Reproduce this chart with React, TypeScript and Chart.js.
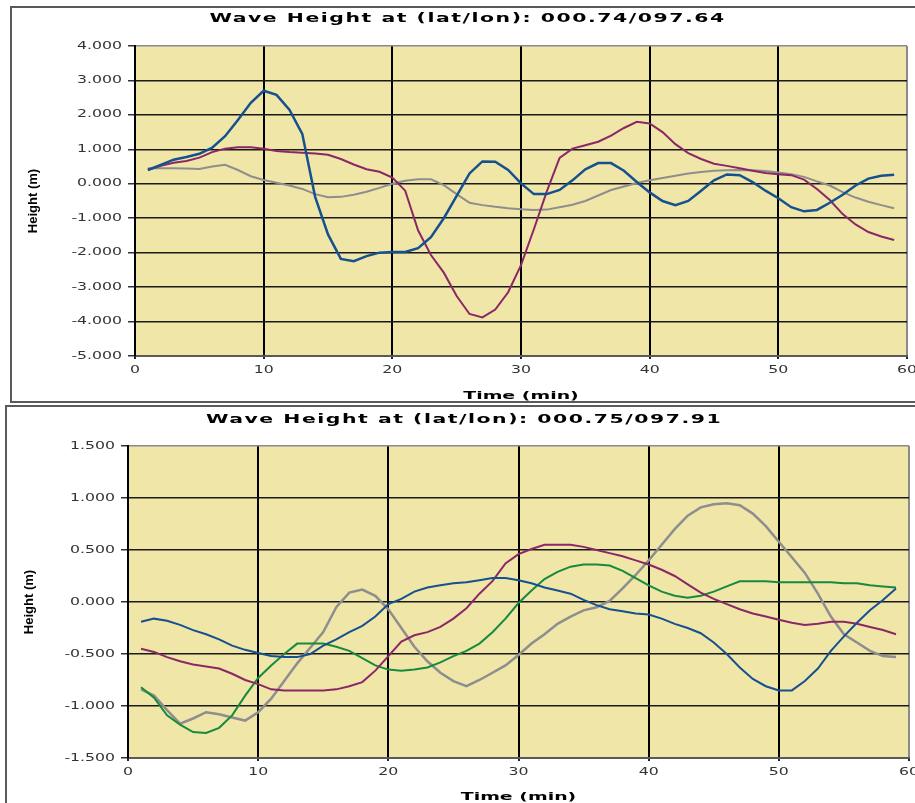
import React, { useEffect, useRef } from 'react';
import { Chart, registerables } from 'chart.js';

Chart.register(...registerables);

// ---------- data ----------
const minutes = [
  1, 2, 3, 4, 5, 6, 7, 8, 9, 10, 11, 12, 13, 14, 15, 16, 17, 18, 19, 20,
  21, 22, 23, 24, 25, 26, 27, 28, 29, 30, 31, 32, 33, 34, 35, 36, 37, 38, 39, 40,
  41, 42, 43, 44, 45, 46, 47, 48, 49, 50, 51, 52, 53, 54, 55, 56, 57, 58, 59,
];
const xTicks = [0, 10, 20, 30, 40, 50, 60];

const title1 = 'Wave Height at (lat/lon): 000.74/097.64';
const title2 = 'Wave Height at (lat/lon): 000.75/097.91';
const xTitle = 'Time (min)';
const yTitle = 'Height (m)';

const c1Blue = [
  0.40, 0.55, 0.70, 0.78, 0.87, 1.05, 1.38, 1.85, 2.35, 2.70,
  2.58, 2.15, 1.45, -0.38, -1.47, -2.18, -2.25, -2.10, -2.00, -1.98,
  -1.98, -1.87, -1.55, -1.00, -0.35, 0.30, 0.65, 0.64, 0.40, 0.01,
  -0.30, -0.30, -0.18, 0.10, 0.42, 0.60, 0.60, 0.38, 0.05, -0.25,
  -0.50, -0.62, -0.50, -0.20, 0.10, 0.27, 0.25, 0.05, -0.20, -0.42,
  -0.68, -0.80, -0.76, -0.55, -0.32, -0.05, 0.15, 0.23, 0.26,
];
const c1Purple = [
  0.40, 0.52, 0.61, 0.66, 0.76, 0.92, 1.02, 1.06, 1.06, 1.02,
  0.95, 0.92, 0.90, 0.88, 0.84, 0.72, 0.56, 0.42, 0.35, 0.18,
  -0.20, -1.35, -2.07, -2.58, -3.26, -3.78, -3.88, -3.65, -3.15, -2.36,
  -1.32, -0.23, 0.75, 1.02, 1.12, 1.22, 1.40, 1.62, 1.80, 1.75,
  1.50, 1.15, 0.89, 0.72, 0.58, 0.52, 0.45, 0.38, 0.31, 0.28,
  0.25, 0.12, -0.15, -0.47, -0.88, -1.18, -1.40, -1.53, -1.63,
];
const c1Gray = [
  0.45, 0.45, 0.45, 0.44, 0.43, 0.50, 0.55, 0.40, 0.22, 0.11,
  0.03, -0.05, -0.15, -0.30, -0.39, -0.38, -0.32, -0.23, -0.12, 0.00,
  0.09, 0.13, 0.13, -0.04, -0.30, -0.55, -0.62, -0.67, -0.71, -0.74,
  -0.76, -0.75, -0.68, -0.61, -0.50, -0.34, -0.18, -0.08, 0.02, 0.10,
  0.17, 0.23, 0.30, 0.34, 0.38, 0.39, 0.40, 0.39, 0.37, 0.33,
  0.28, 0.20, 0.07, -0.05, -0.24, -0.40, -0.52, -0.62, -0.71,
];

const c2Blue = [
  -0.19, -0.16, -0.18, -0.22, -0.27, -0.31, -0.36, -0.42, -0.46, -0.49,
  -0.52, -0.53, -0.53, -0.50, -0.42, -0.36, -0.29, -0.23, -0.14, -0.02,
  0.03, 0.10, 0.14, 0.16, 0.18, 0.19, 0.21, 0.23, 0.23, 0.21,
  0.18, 0.14, 0.11, 0.08, 0.02, -0.03, -0.07, -0.09, -0.11, -0.12,
  -0.16, -0.21, -0.25, -0.30, -0.39, -0.50, -0.63, -0.74, -0.81, -0.85,
  -0.85, -0.76, -0.64, -0.47, -0.33, -0.20, -0.08, 0.02, 0.13,
];
const c2Purple = [
  -0.45, -0.48, -0.53, -0.57, -0.60, -0.62, -0.64, -0.69, -0.75, -0.79,
  -0.84, -0.85, -0.85, -0.85, -0.85, -0.84, -0.81, -0.77, -0.66, -0.52,
  -0.38, -0.32, -0.29, -0.24, -0.16, -0.06, 0.08, 0.20, 0.37, 0.46,
  0.51, 0.55, 0.55, 0.55, 0.53, 0.50, 0.47, 0.44, 0.40, 0.36,
  0.31, 0.25, 0.17, 0.09, 0.03, -0.02, -0.07, -0.11, -0.14, -0.17,
  -0.20, -0.22, -0.21, -0.19, -0.19, -0.21, -0.24, -0.27, -0.31,
];
const c2Green = [
  -0.82, -0.92, -1.09, -1.18, -1.25, -1.26, -1.21, -1.09, -0.90, -0.73,
  -0.61, -0.50, -0.40, -0.40, -0.40, -0.43, -0.47, -0.54, -0.61, -0.65,
  -0.66, -0.65, -0.63, -0.58, -0.52, -0.47, -0.40, -0.29, -0.16, -0.01,
  0.11, 0.22, 0.29, 0.34, 0.36, 0.36, 0.35, 0.30, 0.23, 0.16,
  0.10, 0.06, 0.04, 0.06, 0.10, 0.15, 0.20, 0.20, 0.20, 0.19,
  0.19, 0.19, 0.19, 0.19, 0.18, 0.18, 0.16, 0.15, 0.14,
];
const c2Gray = [
  -0.84, -0.90, -1.04, -1.17, -1.12, -1.06, -1.08, -1.11, -1.14, -1.06,
  -0.93, -0.76, -0.59, -0.44, -0.29, -0.05, 0.09, 0.12, 0.06, -0.07,
  -0.25, -0.43, -0.57, -0.68, -0.76, -0.81, -0.75, -0.68, -0.61, -0.51,
  -0.40, -0.31, -0.21, -0.14, -0.08, -0.05, 0.01, 0.13, 0.26, 0.40,
  0.55, 0.70, 0.83, 0.91, 0.94, 0.95, 0.93, 0.85, 0.73, 0.58,
  0.43, 0.28, 0.08, -0.14, -0.31, -0.39, -0.47, -0.52, -0.53,
];

// ---------- styles ----------
const BLUE = '#15508f';
const PURPLE = '#8b2766';
const GRAY = '#8e8e8e';
const GREEN = '#168a3e';
const PLOT_BG = '#F0E6A8';
const FONT = "'DejaVu Sans', Verdana, sans-serif";
const YFONT = "'Liberation Sans', Arial, sans-serif";

const plotBg = {
  id: 'plotBg',
  beforeDraw(chart: any) {
    const { ctx, chartArea } = chart;
    if (!chartArea) return;
    ctx.save();
    ctx.fillStyle = PLOT_BG;
    ctx.fillRect(chartArea.left, chartArea.top, chartArea.width, chartArea.height);
    ctx.restore();
  },
};

// widen text horizontally like the reference rendering
function patchText(ctx: any) {
  if (ctx.__patched) return;
  ctx.__patched = true;
  const orig = ctx.fillText.bind(ctx);
  ctx.fillText = (text: string, x: number, y: number) => {
    const m = ctx.getTransform();
    const rotated = Math.abs(m.b) > 1e-6;
    const f = String(ctx.font);
    let sx = 1;
    let ls = '0px';
    if (!rotated) {
      if (f.includes('12px')) { sx = 1.7; ls = '0.9px'; }
      else if (f.includes('11px')) { sx = 1.72; }
      else if (f.includes('10px')) { sx = 1.57; }
    }
    if (sx === 1 && ls === '0px') { orig(text, x, y); return; }
    ctx.save();
    ctx.translate(x, y);
    ctx.scale(sx, 1);
    try { ctx.letterSpacing = ls; } catch (e) { /* ignore */ }
    orig(text, 0, 0);
    ctx.restore();
  };
}

type Series = { data: number[]; color: string; width: number };

type PanelProps = {
  title: string;
  series: Series[];
  yMin: number;
  yMax: number;
  yStep: number;
  left: number;
  top: number;
  w: number;
  h: number;
  padLeft: number;
  padRight: number;
  yAxisW: number;
  xAxisH: number;
  titlePadTop: number;
  titlePadBottom: number;
  yTitlePad: number;
  xTitlePad: number;
};

function WavePanel(p: PanelProps) {
  const ref = useRef<HTMLCanvasElement | null>(null);
  useEffect(() => {
    const canvas = ref.current as HTMLCanvasElement;
    const ctx = canvas.getContext('2d');
    patchText(ctx);
    const near = (a: number, b: number) => Math.abs(a - b) < 1e-6;
    const chart = new Chart(canvas, {
      type: 'line',
      data: {
        datasets: p.series.map((s) => ({
          data: minutes.map((m, i) => ({ x: m, y: s.data[i] })),
          borderColor: s.color,
          borderWidth: s.width,
          pointRadius: 0,
          tension: 0,
          fill: false,
        })),
      },
      options: {
        responsive: false,
        animation: false,
        events: [],
        layout: { padding: { left: p.padLeft, right: p.padRight, top: 0, bottom: 0 } },
        plugins: {
          legend: { display: false },
          tooltip: { enabled: false },
          title: {
            display: true,
            text: p.title,
            color: '#000',
            font: { family: FONT, size: 12, weight: 'bold' },
            padding: { top: p.titlePadTop, bottom: p.titlePadBottom },
          },
        },
        scales: {
          x: {
            type: 'linear',
            min: xTicks[0],
            max: xTicks[xTicks.length - 1],
            afterBuildTicks: (scale: any) => {
              scale.ticks = xTicks.map((v) => ({ value: v }));
            },
            ticks: {
              color: '#333',
              font: { family: FONT, size: 10 },
              padding: 5,
              maxRotation: 0,
              autoSkip: false,
              callback: (v: any) => String(v),
            },
            grid: {
              color: (c: any) => (c.tick && near(c.tick.value, 60) ? '#8a8a8a' : '#000'),
              lineWidth: 2,
              tickLength: 3,
              tickColor: '#222',
            },
            border: { display: true, color: '#5a5a5a', width: 2 },
            title: {
              display: true,
              text: xTitle,
              color: '#000',
              font: { family: FONT, size: 11, weight: 'bold' },
              padding: { top: 0, bottom: p.xTitlePad },
            },
            afterFit: (s: any) => {
              s.height = p.xAxisH;
              s.paddingLeft = 0;
              s.paddingRight = 0;
            },
          },
          y: {
            type: 'linear',
            min: p.yMin,
            max: p.yMax,
            ticks: {
              stepSize: p.yStep,
              color: '#333',
              font: { family: FONT, size: 10 },
              padding: 6,
              callback: (v: any) => Number(v).toFixed(3),
            },
            grid: {
              color: (c: any) => (c.tick && near(c.tick.value, p.yMax) ? '#8a8a8a' : '#1a1a1a'),
              lineWidth: 1.5,
              tickLength: 7,
              tickColor: '#333',
            },
            border: { display: true, color: '#000', width: 2 },
            title: {
              display: true,
              text: yTitle,
              color: '#000',
              font: { family: YFONT, size: 13, weight: 'bold' },
              padding: { top: p.yTitlePad, bottom: 0 },
            },
            afterFit: (s: any) => {
              s.width = p.yAxisW;
              s.paddingTop = 0;
              s.paddingBottom = 0;
            },
          },
        },
      } as any,
      plugins: [plotBg],
    });
    return () => chart.destroy();
  }, []);
  return (
    <canvas
      ref={ref}
      width={p.w}
      height={p.h}
      style={{ position: 'absolute', left: p.left, top: p.top, width: p.w, height: p.h, display: 'block' }}
    />
  );
}

export default function App() {
  return (
    <div
      style={{
        position: 'absolute',
        left: 0,
        top: 0,
        width: 915,
        height: 803,
        overflow: 'hidden',
        background: '#fff',
      }}
    >
      <div
        style={{
          position: 'absolute',
          left: 10,
          top: 6,
          width: 1000,
          height: 393,
          border: '2px solid #5a5a5a',
        }}
      />
      <WavePanel
        title={title1}
        series={[
          { data: c1Blue, color: BLUE, width: 2.5 },
          { data: c1Purple, color: PURPLE, width: 2 },
          { data: c1Gray, color: GRAY, width: 2 },
        ]}
        yMin={-5}
        yMax={4}
        yStep={1}
        left={12}
        top={8}
        w={903}
        h={393}
        padLeft={16}
        padRight={8}
        yAxisW={107}
        xAxisH={45}
        titlePadTop={3.6}
        titlePadBottom={20}
        yTitlePad={-2.3}
        xTitlePad={-1.6}
      />
      <div
        style={{
          position: 'absolute',
          left: 5,
          top: 405,
          width: 1000,
          height: 500,
          border: '2px solid #5a5a5a',
        }}
      />
      <WavePanel
        title={title2}
        series={[
          { data: c2Blue, color: BLUE, width: 2 },
          { data: c2Purple, color: PURPLE, width: 2 },
          { data: c2Green, color: GREEN, width: 2 },
          { data: c2Gray, color: GRAY, width: 2.5 },
        ]}
        yMin={-1.5}
        yMax={1.5}
        yStep={0.5}
        left={7}
        top={407}
        w={908}
        h={396}
        padLeft={12}
        padRight={6}
        yAxisW={109}
        xAxisH={45}
        titlePadTop={5.3}
        titlePadBottom={19.3}
        yTitlePad={2.7}
        xTitlePad={-0.6}
      />
    </div>
  );
}
